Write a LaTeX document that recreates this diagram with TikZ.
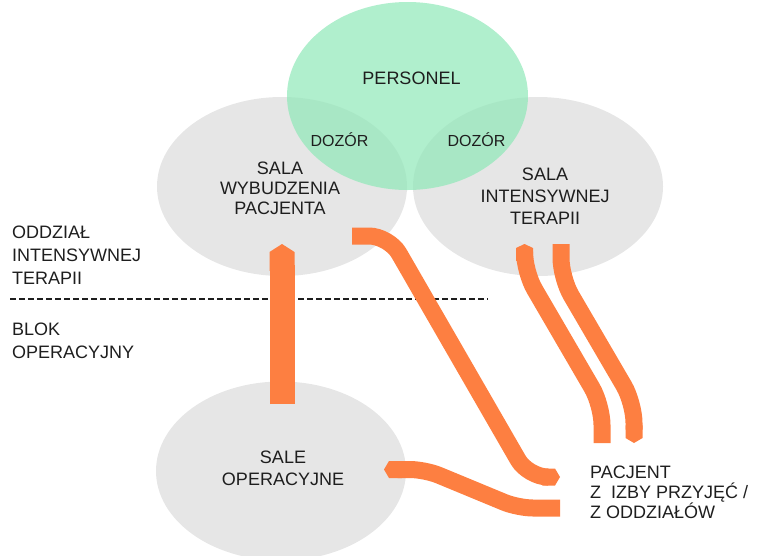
\documentclass[tikz,border=0pt]{standalone}
\usepackage{fontspec}
\setmainfont{Liberation Sans}
\usetikzlibrary{shapes.geometric,arrows.meta}
\definecolor{roomgray}{HTML}{E6E6E6}
\definecolor{staffgreen}{HTML}{8FE8B8}
\definecolor{flowcol}{HTML}{FD7F41}
\definecolor{ink}{HTML}{1E1E1E}
\begin{document}
\begin{tikzpicture}[x=1pt,y=-1pt,
  room/.style={ellipse, fill=roomgray, draw=none, inner sep=0pt,
    minimum width=250pt, minimum height=179pt},
  staff/.style={ellipse, fill=staffgreen, fill opacity=0.7, draw=none,
    inner sep=0pt, minimum width=241pt, minimum height=188pt},
  lbl/.style={text=ink, inner sep=0pt, anchor=base, align=center,
    font=\fontsize{18}{20}\selectfont},
  sidelbl/.style={lbl, align=left, anchor=base west},
  flowpath/.style={draw=flowcol, line width=17pt, line cap=butt},
  widepath/.style={draw=flowcol, line width=25pt, line cap=butt},
  sep/.style={draw=ink, line width=2pt, dash pattern=on 6pt off 3pt}
]
\useasboundingbox (0,0) rectangle (759,555);
\clip (0,0) rectangle (759,555);

% rooms and staff
\node[room] (wake) at (282,186.5) {};
\node[room] (icu) at (538,186.5) {};
\node[room] (ops) at (281,471) {};
\node[staff] (staff) at (407.5,96) {};

% labels (base anchor = baseline of the last line)
\node[lbl] (staffT) at (411.5,84) {PERSONEL};
\node[lbl, font=\fontsize{16}{18}\selectfont] (dozL) at (339.5,146) {DOZÓR};
\node[lbl, font=\fontsize{16}{18}\selectfont] (dozR) at (476.5,146) {DOZÓR};
\node[lbl] (wakeT) at (280,214) {SALA\\WYBUDZENIA\\PACJENTA};
\node[lbl, font=\fontsize{18}{22}\selectfont] (icuT) at (545,224) {SALA\\INTENSYWNEJ\\TERAPII};
\node[lbl, font=\fontsize{18}{22}\selectfont] (opsT) at (283,485) {SALE\\OPERACYJNE};
\node[sidelbl, font=\fontsize{18}{23}\selectfont] (wardT) at (12,284) {ODDZIAŁ\\INTENSYWNEJ\\TERAPII};
\node[sidelbl, font=\fontsize{18}{23}\selectfont] (blockT) at (12,358) {BLOK\\OPERACYJNY};
\node[sidelbl] (patT) at (590,518) {PACJENT\\Z\ \ IZBY PRZYJĘĆ /\\Z ODDZIAŁÓW};

% boundary between the two units
\coordinate (sepL) at (10,299);
\coordinate (sepR) at (488,299);
\draw[sep] (sepL) -- (sepR);

% operating rooms -> recovery room
\coordinate (v0) at (282,404);
\coordinate (v1) at (282,244);
\draw[widepath, -{Triangle Cap[length=8pt]}] (v0) -- (v1);

% recovery room -> patient
\coordinate (a0) at (352,236);
\coordinate (a1) at (389,236);
\coordinate (a2) at (528,477);
\coordinate (a3) at (560,477);
\draw[flowpath, rounded corners=20pt, -{Triangle Cap[length=5pt]}]
  (a0) -- (a1) -- (a2) -- (a3);

% patient -> operating rooms
\coordinate (b0) at (560,508);
\coordinate (b1) at (518,508);
\coordinate (b2) at (425,469.5);
\coordinate (b3) at (384,469.5);
\draw[flowpath, rounded corners=15pt, -{Triangle Cap[length=5pt]}]
  (b0) -- (b1) -- (b2) -- (b3);

% patient -> intensive care
\coordinate (c0) at (602,443);
\coordinate (c1) at (602,405);
\coordinate (c2) at (524.5,272);
\coordinate (c3) at (524.5,244);
\draw[flowpath, rounded corners=20pt, -{Triangle Cap[length=4pt]}]
  (c0) -- (c1) -- (c2) -- (c3);

% intensive care -> patient
\coordinate (d0) at (561,244);
\coordinate (d1) at (561,278);
\coordinate (d2) at (634,403);
\coordinate (d3) at (634,443);
\draw[flowpath, rounded corners=20pt, -{Triangle Cap[length=5pt]}]
  (d0) -- (d1) -- (d2) -- (d3);
\end{tikzpicture}
\end{document}
